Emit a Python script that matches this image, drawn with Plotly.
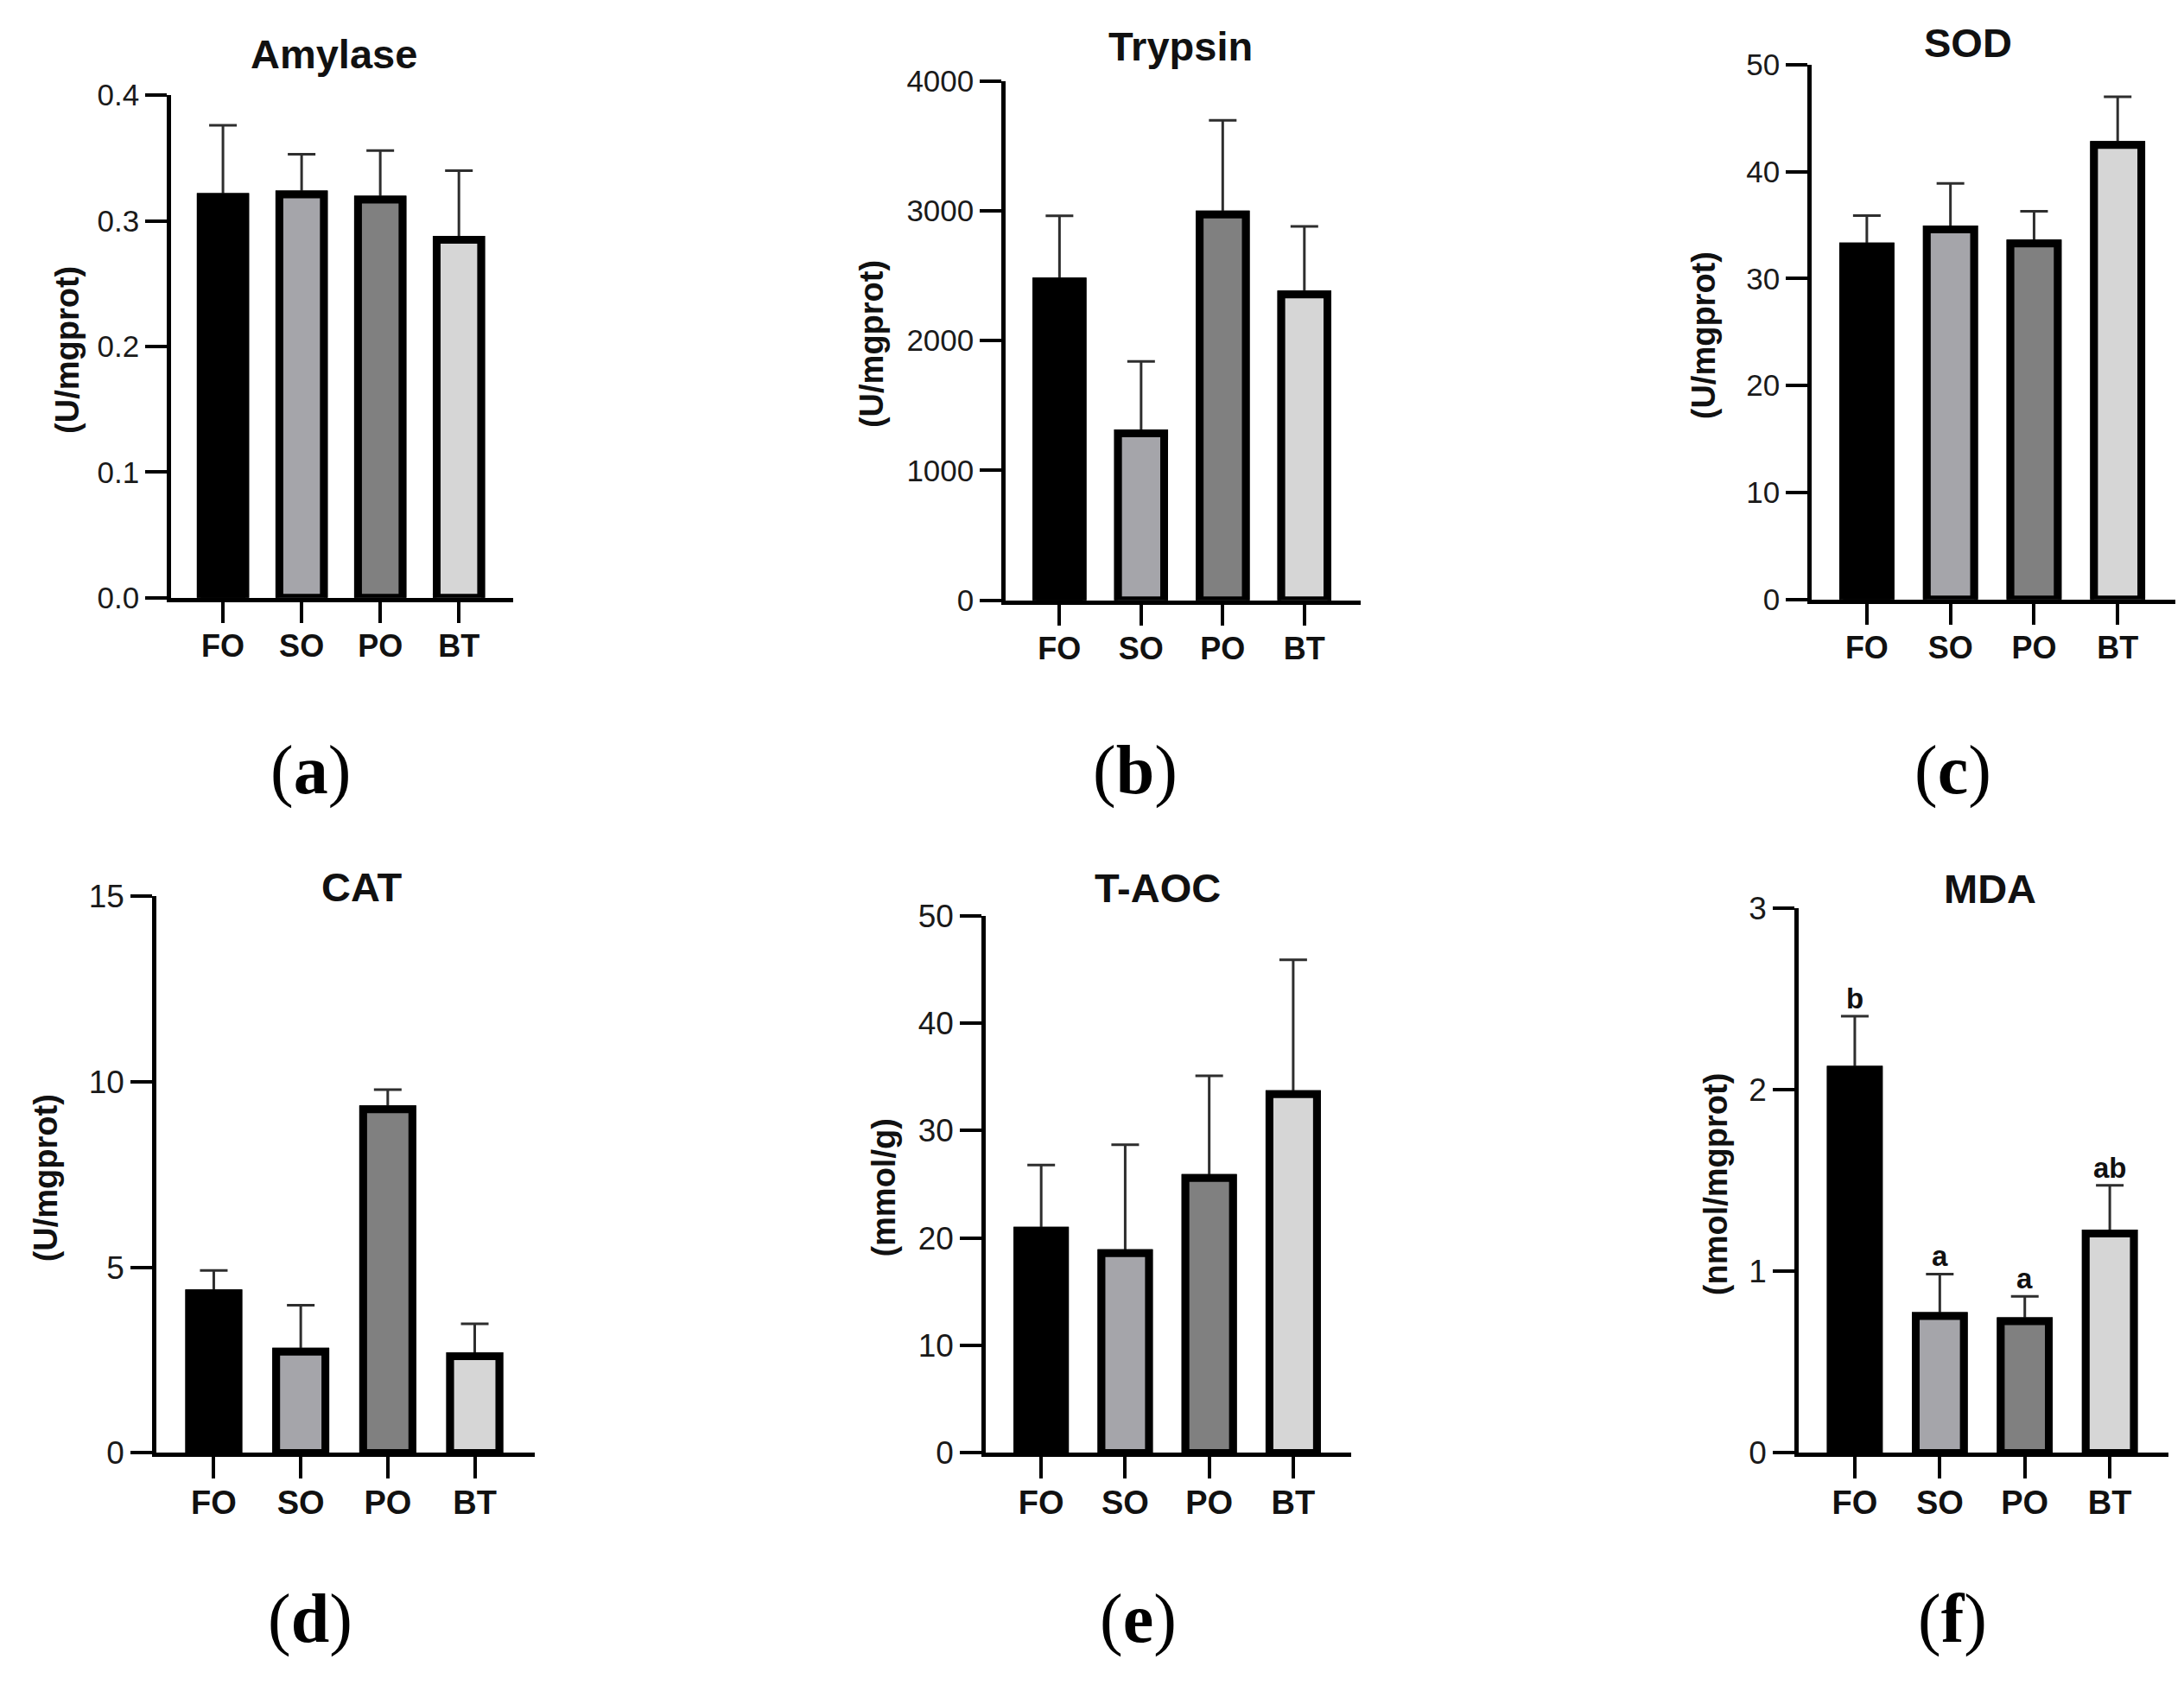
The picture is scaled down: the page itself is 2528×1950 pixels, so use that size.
import plotly.graph_objects as go

groups = ["FO", "SO", "PO", "BT"]
bar_colors = ["#000000", "#a5a5aa", "#808080", "#d6d6d6"]

titles = ["Amylase", "Trypsin", "SOD", "CAT", "T-AOC", "MDA"]
units = ["(U/mgprot)", "(U/mgprot)", "(U/mgprot)", "(U/mgprot)", "(mmol/g)", "(nmol/mgprot)"]
tags = ["a", "b", "c", "d", "e", "f"]

amylase = [0.319, 0.321, 0.317, 0.285]
amylase_err = [0.057, 0.032, 0.039, 0.055]
trypsin = [2455, 1285, 2970, 2355]
trypsin_err = [505, 555, 726, 524]
sod = [33.0, 34.6, 33.3, 42.5]
sod_err = [2.9, 4.3, 3.0, 4.5]
cat = [4.30, 2.73, 9.26, 2.61]
cat_err = [0.62, 1.25, 0.53, 0.87]
taoc = [20.7, 18.6, 25.6, 33.4]
taoc_err = [6.1, 10.1, 9.5, 12.5]
mda = [2.11, 0.754, 0.726, 1.208]
mda_err = [0.295, 0.231, 0.137, 0.266]
mda_letters = ["b", "a", "a", "ab"]

y_max = [0.4, 4000, 50, 15, 50, 3]
y_step = [0.1, 1000, 10, 5, 10, 1]
y_fmt = [".1f", "d", "d", "d", "d", "d"]

means = [amylase, trypsin, sod, cat, taoc, mda]
errs = [amylase_err, trypsin_err, sod_err, cat_err, taoc_err, mda_err]

W, H = 2528, 1950
# plot boxes in pixels: left, right, top, bottom
boxes = [(190, 586, 84, 678), (1156, 1567, 67, 681), (2089, 2510, 48, 680),
         (173, 611, 1031, 1689), (1133, 1556, 1054, 1689), (2074, 2502, 1045, 1689)]
title_pos = [(378, 35), (1358, 26), (2270, 22), (410, 1020), (1332, 1021), (2295, 1022)]
ytitle_x = [70, 1001, 1964, 45, 1015, 1978]
tag_pos = [(351, 882), (1306, 882), (2252, 882), (351, 1885), (1309, 1885), (2252, 1885)]

SANS = "Liberation Sans, Arial, sans-serif"
SERIF = "Liberation Serif, Times New Roman, serif"

fig = go.Figure()
layout = {}
annotations = []

for i in range(6):
    s = "" if i == 0 else str(i + 1)
    left, right, top, bottom = boxes[i]
    ysize = 35 if i < 3 else 37
    xsize = 36 if i < 3 else 38

    # bars with error bars, then the same bars on top to hide the lower caps
    fig.add_trace(go.Bar(
        x=groups, y=means[i], width=0.565,
        marker=dict(color=bar_colors, line=dict(color="black", width=9)),
        error_y=dict(type="data", symmetric=False, array=errs[i], arrayminus=[0] * 4,
                     color="#2e2e2e", thickness=3, width=16),
        xaxis="x" + s, yaxis="y" + s, showlegend=False, hoverinfo="skip"))
    fig.add_trace(go.Bar(
        x=groups, y=means[i], width=0.565,
        marker=dict(color=bar_colors, line=dict(color="black", width=9)),
        xaxis="x" + s, yaxis="y" + s, showlegend=False))

    layout["xaxis" + s] = dict(
        domain=[left / W, right / W], anchor="y" + s,
        type="category", categoryorder="array", categoryarray=groups,
        range=[-0.66, 3.69], showline=True, linecolor="black", linewidth=4.5,
        ticks="outside", ticklen=25, tickwidth=4, tickcolor="black",
        ticklabelstandoff=-5,
        tickfont=dict(family=SANS, size=xsize, color="#111111", weight="bold"),
        showgrid=False, zeroline=False)
    layout["yaxis" + s] = dict(
        domain=[1 - bottom / H, 1 - top / H], anchor="x" + s,
        range=[0, y_max[i]], tick0=0, dtick=y_step[i], tickformat=y_fmt[i],
        showline=True, linecolor="black", linewidth=4.5,
        ticks="outside", ticklen=25, tickwidth=4, tickcolor="black",
        tickfont=dict(family=SANS, size=ysize, color="#1a1a1a"),
        showgrid=False, zeroline=False)

    annotations.append(dict(
        text="<b>" + titles[i] + "</b>", x=title_pos[i][0] / W, y=1 - title_pos[i][1] / H,
        xref="paper", yref="paper", showarrow=False, xanchor="center", yanchor="middle",
        font=dict(family=SANS, size=47, color="#111111")))
    annotations.append(dict(
        text="<b>" + units[i] + "</b>", x=ytitle_x[i] / W, y=1 - ((top + bottom) / 2 + 4) / H,
        xref="paper", yref="paper", showarrow=False, textangle=-90,
        xanchor="center", yanchor="middle",
        font=dict(family=SANS, size=38, color="#111111")))
    annotations.append(dict(
        text="(<b>" + tags[i] + "</b>)", x=tag_pos[i][0] / W, y=1 - tag_pos[i][1] / H,
        xref="paper", yref="paper", showarrow=False, xanchor="center", yanchor="middle",
        font=dict(family=SERIF, size=80, color="black")))

for g, m, e, letter in zip(groups, mda, mda_err, mda_letters):
    annotations.append(dict(
        text="<b>" + letter + "</b>", x=g, y=m + e, xref="x6", yref="y6",
        showarrow=False, xanchor="center", yanchor="bottom", yshift=0,
        font=dict(family=SANS, size=33, color="#111111")))

fig.update_layout(
    width=W, height=H, margin=dict(l=0, r=0, t=0, b=0),
    paper_bgcolor="white", plot_bgcolor="white",
    barmode="overlay", annotations=annotations, **layout)

fig.write_html("out.html")
